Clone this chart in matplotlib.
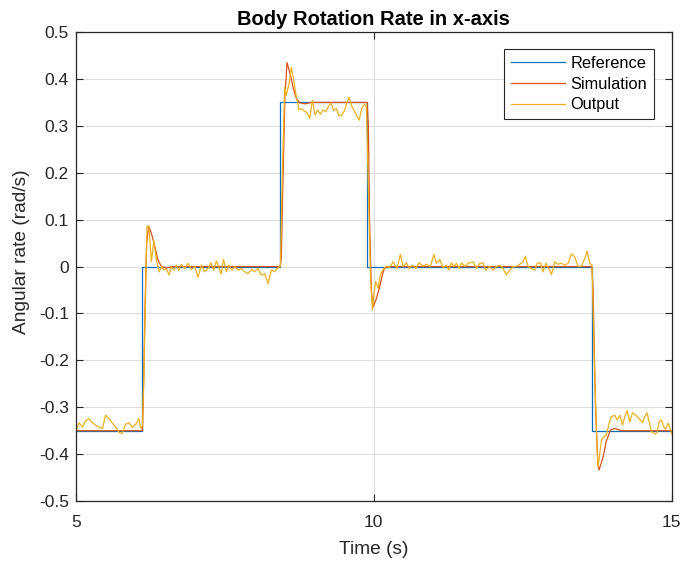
import matplotlib
matplotlib.use('Agg')
import matplotlib.pyplot as plt

plt.rcParams['font.family'] = ['Liberation Sans', 'DejaVu Sans']

# Commanded body rate (piecewise constant)
ref_t = [5.0, 6.11, 8.42, 9.88, 13.66, 15.0]
ref_v = [-0.35, 0.0, 0.35, 0.0, -0.35, -0.35]

# Simulated response
sim_t = [5.0, 6.12, 6.14, 6.16, 6.19, 6.225, 6.27, 6.33, 6.38, 6.44, 6.52, 6.62, 8.43,
         8.45, 8.48, 8.51, 8.545, 8.60, 8.65, 8.70, 8.76, 8.85, 8.95, 9.89,
         9.91, 9.93, 9.96, 9.99, 10.04, 10.10, 10.15, 10.18, 10.25, 13.66,
         13.68, 13.72, 13.76, 13.78, 13.85, 13.90, 13.97, 14.04, 14.16, 15.0]
sim_v = [-0.35, -0.35, -0.25, -0.10, 0.05, 0.086, 0.071, 0.042, 0.014, 0.0, -0.003, 0.0, 0.0,
         0.02, 0.20, 0.36, 0.435, 0.41, 0.38, 0.359, 0.349, 0.347, 0.35, 0.35,
         0.30, 0.10, -0.05, -0.086, -0.07, -0.043, -0.015, -0.004, 0.0, 0.0,
         -0.05, -0.30, -0.42, -0.434, -0.405, -0.373, -0.349, -0.345, -0.35, -0.35]

# Measured output
out_t = [5.0, 5.056, 5.112, 5.168, 5.224, 5.28, 5.336, 5.39, 5.45, 5.50, 5.56, 5.615,
         5.67, 5.73, 5.78, 5.84, 5.895, 5.95, 6.01, 6.06, 6.09, 6.12,
         6.15, 6.18, 6.197, 6.23, 6.27, 6.31, 6.354, 6.40, 6.44, 6.48, 6.52, 6.566,
         6.605, 6.65, 6.69, 6.73, 6.77, 6.83, 6.885, 6.94, 7.0, 7.05, 7.11, 7.16,
         7.22, 7.27, 7.315, 7.36, 7.40, 7.44, 7.48, 7.53, 7.57, 7.62, 7.67, 7.72,
         7.78, 7.835, 7.89, 7.95, 8.0, 8.06, 8.11, 8.17, 8.23, 8.28, 8.34, 8.38, 8.42,
         8.434, 8.467, 8.506, 8.534, 8.579, 8.618, 8.657, 8.702, 8.747, 8.786, 8.831,
         8.881, 8.926, 8.971, 9.015, 9.06, 9.105, 9.15, 9.194, 9.239, 9.284, 9.329,
         9.373, 9.418, 9.463, 9.508, 9.552, 9.586, 9.631, 9.675, 9.72, 9.754, 9.798,
         9.843, 9.877, 9.91, 9.944, 9.977, 10.005, 10.033, 10.073, 10.111, 10.157,
         10.212, 10.268, 10.324, 10.391, 10.447, 10.492, 10.548, 10.593, 10.649,
         10.705, 10.761, 10.828, 10.884, 10.951, 11.007, 11.051, 11.107, 11.163,
         11.219, 11.258, 11.303, 11.342, 11.387, 11.432, 11.476, 11.527, 11.583,
         11.667, 11.723, 11.778, 11.834, 11.879, 11.946, 12.002, 12.058, 12.114,
         12.17, 12.226, 12.282, 12.338, 12.394, 12.45, 12.505, 12.545, 12.589,
         12.645, 12.701, 12.74, 12.796, 12.841, 12.886, 12.936, 12.981, 13.037,
         13.093, 13.149, 13.205, 13.26, 13.316, 13.372, 13.428, 13.484, 13.54,
         13.579, 13.624, 13.663, 13.70, 13.747, 13.764, 13.781, 13.82, 13.848,
         13.904, 13.949, 13.988, 14.044, 14.083, 14.128, 14.173, 14.212, 14.251,
         14.296, 14.34, 14.396, 14.452, 14.508, 14.547, 14.586, 14.62, 14.659,
         14.715, 14.754, 14.788, 14.827, 14.866, 14.9, 14.939, 14.978, 15.0]
out_v = [-0.352, -0.333, -0.342, -0.329, -0.324, -0.333, -0.338, -0.343, -0.345, -0.317, -0.324, -0.334,
         -0.342, -0.354, -0.356, -0.336, -0.333, -0.343, -0.336, -0.324, -0.345, -0.340,
         -0.20, 0.0, 0.086, 0.084, 0.010, 0.056, 0.014, -0.011, 0.0, -0.007, -0.004, -0.018,
         0.0, -0.0075, 0.003, -0.009, 0.005, -0.004, 0.007, -0.006, 0.0, -0.023, 0.003, -0.011,
         -0.004, 0.008, -0.0075, 0.012, 0.0, -0.016, 0.015, -0.011, 0.003, -0.0075, 0.0, -0.0075,
         -0.004, -0.011, -0.015, -0.006, -0.011, -0.004, -0.018, -0.015, -0.036, -0.0075, -0.011, -0.004, 0.0,
         0.0, 0.199, 0.383, 0.366, 0.39, 0.425, 0.398, 0.362, 0.334, 0.337, 0.332,
         0.328, 0.316, 0.355, 0.323, 0.334, 0.325, 0.334, 0.330, 0.341, 0.349, 0.332,
         0.337, 0.321, 0.323, 0.332, 0.351, 0.361, 0.342, 0.332, 0.321, 0.312, 0.337,
         0.346, 0.341, 0.163, -0.014, -0.093, -0.057, -0.032, -0.046, -0.018, -0.006,
         0.001, -0.002, 0.010, -0.004, 0.026, 0.0, 0.008, -0.004, 0.003,
         -0.004, 0.008, 0.001, 0.005, 0.0, 0.026, 0.007, 0.015, -0.002,
         0.003, -0.0075, 0.008, 0.0, 0.007, -0.004, 0.008, 0.0, 0.007,
         0.010, -0.004, 0.007, 0.008, -0.0075, 0.0, -0.0075, 0.0, 0.003,
         -0.004, -0.018, -0.0075, 0.0, 0.0, 0.005, 0.010, 0.022, 0.0,
         -0.004, -0.0075, 0.007, 0.008, -0.011, 0.007, -0.004, -0.017, 0.010,
         0.005, 0.007, 0.003, 0.007, 0.027, 0.021, 0.0, 0.001, 0.017,
         0.033, 0.007, 0.003, -0.20, -0.39, -0.427, -0.41, -0.370, -0.365,
         -0.359, -0.334, -0.320, -0.317, -0.327, -0.317, -0.338, -0.320, -0.307,
         -0.331, -0.312, -0.317, -0.324, -0.333, -0.320, -0.312, -0.331, -0.352,
         -0.357, -0.354, -0.331, -0.327, -0.342, -0.347, -0.334, -0.347, -0.357]

fig = plt.figure(figsize=(6.82, 5.63), dpi=100)
ax = fig.add_axes([0.111, 0.110, 0.874, 0.833])

ax.plot(ref_t, ref_v, drawstyle='steps-post', color='#0072BD', lw=0.9, label='Reference')
ax.plot(sim_t, sim_v, color='#D95319', lw=0.9, label='Simulation')
ax.plot(out_t, out_v, color='#EDB120', lw=0.9, label='Output')

ax.set_xlim(5, 15)
ax.set_ylim(-0.5, 0.5)
ax.set_xticks([5, 10, 15])
ax.set_yticks([-0.5, -0.4, -0.3, -0.2, -0.1, 0, 0.1, 0.2, 0.3, 0.4, 0.5])
ax.set_yticklabels(['-0.5', '-0.4', '-0.3', '-0.2', '-0.1', '0', '0.1', '0.2', '0.3', '0.4', '0.5'])
ax.grid(True, color='#dfdfdf', lw=0.8)
ax.set_axisbelow(True)

for s in ax.spines.values():
    s.set_color('#262626')
    s.set_linewidth(0.9)
ax.tick_params(direction='in', top=True, right=True, length=5, width=0.8,
               colors='#262626', labelsize=12.5)
ax.tick_params(axis='x', pad=10)
ax.tick_params(axis='y', pad=5)

ax.set_xlabel('Time (s)', fontsize=13.8, color='#262626')
ax.set_ylabel('Angular rate (rad/s)', fontsize=13.8, color='#262626')
ax.xaxis.set_label_coords(0.5, -0.085)
ax.yaxis.set_label_coords(-0.076, 0.531)
ax.set_title('Body Rotation Rate in x-axis', fontsize=14.5, fontweight='bold', pad=5)

leg = ax.legend(loc='upper right', bbox_to_anchor=(0.970, 0.964), borderaxespad=0,
                fontsize=11.8, fancybox=False, framealpha=1, edgecolor='#262626',
                handlelength=3.3, handletextpad=0.3, labelspacing=0.35, borderpad=0.42)
leg.get_frame().set_linewidth(0.8)

fig.savefig('out.png', dpi=100)
